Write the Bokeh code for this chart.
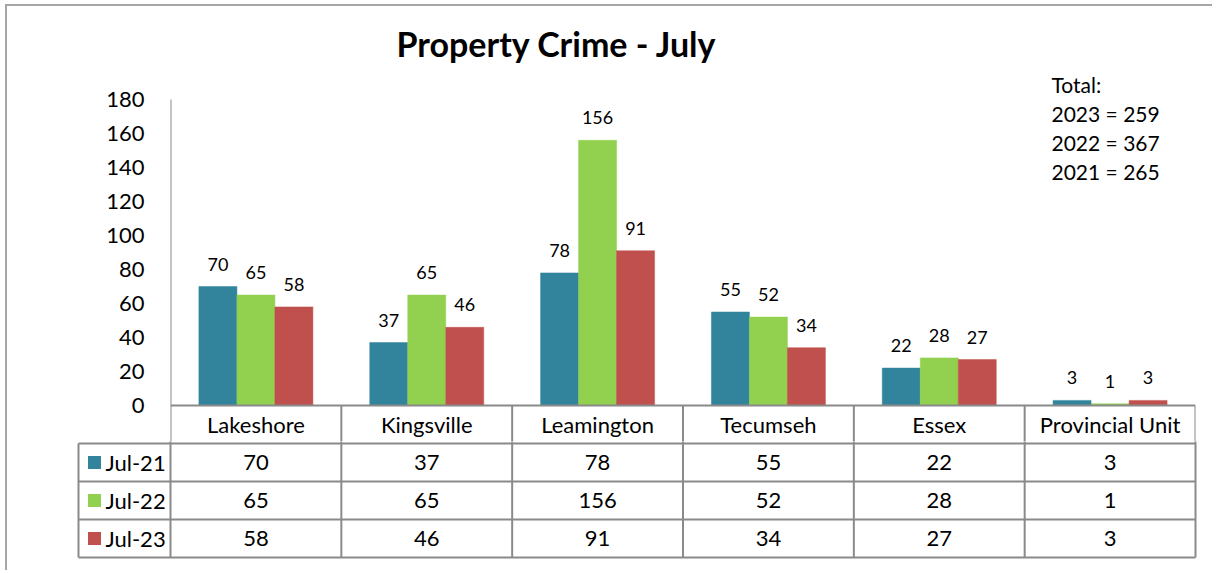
from bokeh.plotting import figure
from bokeh.models import Range1d, FixedTicker, ColumnDataSource, LabelSet
from bokeh.layouts import column
from bokeh.embed import file_html
from bokeh.resources import INLINE
from bokeh.core.properties import value

# ---------------- data ----------------
categories = ["Lakeshore", "Kingsville", "Leamington", "Tecumseh", "Essex", "Provincial Unit"]
series_names = ["Jul-21", "Jul-22", "Jul-23"]
jul21 = [70, 37, 78, 55, 22, 3]
jul22 = [65, 65, 156, 52, 28, 1]
jul23 = [58, 46, 91, 34, 27, 3]
y_ticks = [0, 20, 40, 60, 80, 100, 120, 140, 160, 180]
total_years = ["2023", "2022", "2021"]
total_values = [259, 367, 265]
title_text = "Property Crime - July"

# ---------------- styling ----------------
FONT = "Lato"
colors = ["#31849B", "#92D050", "#C0504D"]
GRID = "#8a8a8a"
FRAME = "#a6a6a6"

# page geometry (pixels); canvas origin on the page
ox, oy = 7, 6
W = 1205
plot_left, plot_right = 170, 1195
zero_y, top_y = 405, 99
catw = (plot_right - plot_left) / len(categories)
ppu = (zero_y - top_y) / 180.0
A_bottom, frame_top = 441, 70
row_top, row_h = 443, 38
B_bottom = 570


def u_of(x):
    return (x - plot_left) / catw


def v_of(y):
    return (zero_y - y) / ppu


def r_of(y):
    return (y - row_top) / row_h


bw = 38 / catw
offsets = [-bw, 0.0, bw]
series = [jul21, jul22, jul23]
n = len(categories)
rows = len(series_names)

# ---------------- chart figure ----------------
pA = figure(width=W, height=A_bottom - oy,
            x_range=Range1d(0, n),
            y_range=Range1d(v_of(A_bottom), v_of(frame_top)),
            output_backend="svg", toolbar_location=None,
            x_axis_location=None,
            min_border_left=plot_left - ox, min_border_right=W - (plot_right - ox),
            min_border_top=frame_top - oy, min_border_bottom=0)
pA.outline_line_color = None
pA.xgrid.visible = False
pA.ygrid.visible = False
pA.background_fill_color = "white"
pA.border_fill_color = "white"

pA.yaxis.ticker = FixedTicker(ticks=y_ticks)
pA.yaxis.axis_line_color = None
pA.yaxis.major_tick_line_color = None
pA.yaxis.minor_tick_line_color = None
pA.yaxis.major_tick_out = 0
pA.yaxis.major_tick_in = 0
pA.yaxis.major_label_standoff = 26
pA.yaxis.major_label_text_font = FONT
pA.yaxis.major_label_text_font_size = "22px"
pA.yaxis.major_label_text_color = "black"

pA.title.text = title_text
pA.title.text_font = FONT
pA.title.text_font_style = "bold"
pA.title.text_font_size = "34px"
pA.title.text_color = "black"
pA.title.align = "left"
pA.title.offset = 226
pA.title.standoff = 13

for vals, col, off in zip(series, colors, offsets):
    src = ColumnDataSource(dict(
        x=[i + 0.5 + off for i in range(n)],
        top=vals,
        lab=[str(v) for v in vals],
    ))
    pA.vbar(x="x", top="top", bottom=0, width=bw, source=src,
            fill_color=col, line_color=col, line_width=0.5)
    pA.add_layout(LabelSet(x="x", y="top", text="lab", source=src,
                           y_offset=16, text_align="center",
                           text_baseline="alphabetic",
                           text_font=value(FONT), text_font_size="18px",
                           text_color="black"))

# axis line / header row lines
pA.segment(x0=[0], y0=[v_of(A_bottom + 1)], x1=[0], y1=[180],
           line_color=GRID, line_width=2)
pA.segment(x0=list(range(1, n + 1)), y0=[v_of(A_bottom + 1)] * n,
           x1=list(range(1, n + 1)), y1=[0] * n, line_color=GRID, line_width=2)
pA.segment(x0=[0], y0=[0], x1=[n], y1=[0], line_color=GRID, line_width=2)

pA.text(x=[i + 0.5 for i in range(n)], y=[v_of(424)] * n, text=categories,
        text_align="center", text_baseline="middle",
        text_font=value(FONT), text_font_size="22px", text_color="black")

tot_lines = ["Total:"] + [f"{yr} = {val}" for yr, val in zip(total_years, total_values)]
tot_mid = [84, 113, 142, 170.5]
pA.text(x=[u_of(1051)] * len(tot_lines), y=[v_of(b) for b in tot_mid],
        text=tot_lines, text_align="left", text_baseline="middle",
        text_font=value(FONT), text_font_size="21px", text_color="black")

# ---------------- data table figure ----------------
pB = figure(width=W, height=B_bottom - A_bottom,
            x_range=Range1d(u_of(ox), u_of(ox + W)),
            y_range=Range1d(r_of(B_bottom), r_of(A_bottom)),
            output_backend="svg", toolbar_location=None,
            x_axis_location=None, y_axis_location=None,
            min_border=0, min_border_left=0, min_border_right=0,
            min_border_top=0, min_border_bottom=0)
pB.outline_line_color = None
pB.xgrid.visible = False
pB.ygrid.visible = False
pB.background_fill_color = "white"
pB.border_fill_color = "white"

xl = u_of(78)
pB.segment(x0=[xl] * (rows + 1), y0=list(range(rows + 1)),
           x1=[n] * (rows + 1), y1=list(range(rows + 1)),
           line_color=GRID, line_width=2)
pB.segment(x0=[xl], y0=[0], x1=[xl], y1=[rows], line_color=GRID, line_width=2)
pB.segment(x0=list(range(n + 1)), y0=[r_of(A_bottom - 1)] * (n + 1),
           x1=list(range(n + 1)), y1=[rows] * (n + 1), line_color=GRID, line_width=2)

pB.scatter(x=[u_of(94)] * rows, y=[i + 0.5 for i in range(rows)], marker="square",
           size=13, fill_color=colors, line_color=None)
pB.text(x=[u_of(105)] * rows, y=[i + 0.5 for i in range(rows)], text=series_names,
        text_align="left", text_baseline="middle",
        text_font=value(FONT), text_font_size="22px", text_color="black")

for i, vals in enumerate(series):
    pB.text(x=[j + 0.5 for j in range(n)], y=[i + 0.5] * n,
            text=[str(v) for v in vals], text_align="center", text_baseline="middle",
            text_font=value(FONT), text_font_size="22px", text_color="black")

colA = column(pA, styles={"margin-left": "5px", "margin-top": "4px",
                          "border-left": f"2px solid {FRAME}",
                          "border-top": f"2px solid {FRAME}"})
colB = column(pB, styles={"margin-left": "5px",
                          "border-left": f"2px solid {FRAME}"})

open("out.html", "w").write(file_html([colA, colB], INLINE))
